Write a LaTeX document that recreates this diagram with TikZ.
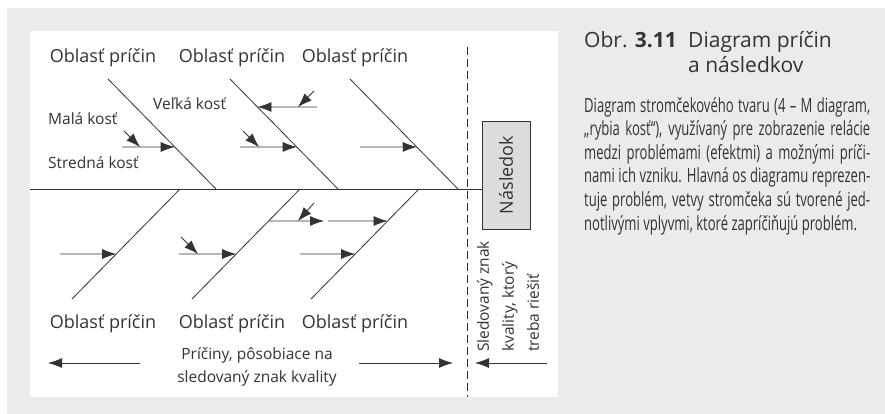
\documentclass[tikz,border=0pt]{standalone}
\usepackage{fontspec}
\setmainfont{Open Sans}
\newfontfamily\narrowfont[FakeStretch=0.67]{Open Sans}
\usetikzlibrary{arrows.meta,calc}
\definecolor{ink}{HTML}{333333}
\definecolor{pagegray}{HTML}{EBEBEC}
\definecolor{boxgray}{HTML}{DCDCDC}

\begin{document}
\begin{tikzpicture}[x=1pt,y=-1pt,
  bone/.style={draw=ink, line width=0.8pt},
  branch/.style={draw=ink, line width=0.8pt, -{Latex[length=14pt,width=10pt]}},
  area/.style={font=\fontsize{18}{22}\selectfont, text=ink, inner sep=0pt},
  small/.style={font=\fontsize{15.5}{23}\selectfont, text=ink, inner sep=0pt}]
\useasboundingbox (0,0) rectangle (885,414);
\fill[pagegray] (7,8) rectangle (885,414);
\fill[white] (30,31) rectangle (558,397);

% effect box and spine
\node [draw=ink, fill=boxgray, line width=0.8pt, rotate=90, minimum width=108pt, minimum height=48pt, area] (eff) at (506,175) {Následok};
\coordinate (tail) at (30,189);
\draw[bone] (tail) -- (tail -| eff.north);

% dashed border of the causes
\coordinate (cuttop) at (467,47);
\coordinate (cutbot) at (467,397);
\draw[ink, line width=0.8pt, dash pattern=on 8pt off 4pt] (cuttop) -- (cutbot);

% upper bones
\coordinate (u1) at (108,79);  \coordinate (m1) at (216,189);
\coordinate (u2) at (230,79);  \coordinate (m2) at (338,189);
\coordinate (u3) at (350,79);  \coordinate (m3) at (458,189);
\draw[bone] (u1) -- (m1);
\draw[bone] (u2) -- (m2);
\draw[bone] (u3) -- (m3);

% lower bones
\coordinate (d1) at (72,299);  \coordinate (n1) at (180,189);
\coordinate (d2) at (192,299); \coordinate (n2) at (300,189);
\coordinate (d3) at (311,299); \coordinate (n3) at (419,189);
\draw[bone] (d1) -- (n1);
\draw[bone] (d2) -- (n2);
\draw[bone] (d3) -- (n3);

% branches on the upper bones
\coordinate (a1) at (122,147); \coordinate (b1) at ($(u1)!0.618!(m1)$);
\draw[branch] (a1) -- (b1);
\coordinate (c1) at (124,131); \coordinate (e1) at (140,147);
\draw[branch] (c1) -- (e1);
\coordinate (a2) at (240,147); \coordinate (b2) at ($(u2)!0.618!(m2)$);
\draw[branch] (a2) -- (b2);
\coordinate (c2) at (243,131); \coordinate (e2) at (259,147);
\draw[branch] (c2) -- (e2);
\coordinate (a3) at (317,107); \coordinate (b3) at ($(u2)!0.2545!(m2)$);
\draw[branch] (a3) -- (b3);
\coordinate (c3) at (314,91);  \coordinate (e3) at (298,107);
\draw[branch] (c3) -- (e3);
\coordinate (a4) at (360,147); \coordinate (b4) at ($(u3)!0.618!(m3)$);
\draw[branch] (a4) -- (b4);

% branches on the lower bones
\coordinate (a5) at (60,254);  \coordinate (b5) at ($(d1)!0.409!(n1)$);
\draw[branch] (a5) -- (b5);
\coordinate (a6) at (179,254); \coordinate (b6) at ($(d2)!0.409!(n2)$);
\draw[branch] (a6) -- (b6);
\coordinate (c6) at (181,237); \coordinate (e6) at (198,254);
\draw[branch] (c6) -- (e6);
\coordinate (a7) at ($(d2)!0.709!(n2)$); \coordinate (b7) at (324,221);
\draw[branch] (a7) -- (b7);
\coordinate (c7) at (314,203); \coordinate (e7) at (298,221);
\draw[branch] (c7) -- (e7);
\coordinate (a8) at (328,221); \coordinate (b8) at ($(d3)!0.709!(n3)$);
\draw[branch] (a8) -- (b8);
\coordinate (a9) at (300,254); \coordinate (b9) at ($(d3)!0.409!(n3)$);
\draw[branch] (a9) -- (b9);

% area labels
\node [area, anchor=base] (top1) at (103,63) {Oblasť príčin};
\node [area, anchor=base] (top2) at (232,63) {Oblasť príčin};
\node [area, anchor=base] (top3) at (355,63) {Oblasť príčin};
\node [area, anchor=base] (bot1) at (103,328) {Oblasť príčin};
\node [area, anchor=base] (bot2) at (232,328) {Oblasť príčin};
\node [area, anchor=base] (bot3) at (355,328) {Oblasť príčin};

% bone names
\node [small, anchor=base west] (malak) at (48,125) {Malá kosť};
\node [small, anchor=base west] (strk) at (48,168) {Stredná kosť};
\node [small, anchor=base west] (velk) at (153,110) {Veľká kosť};

% causes and the quality mark below (base = last line)
\node [small, align=center, anchor=base] (causes) at (257,382) {Príčiny, pôsobiace na\\sledovaný znak kvality};
\coordinate (lfrom) at (140,363); \coordinate (lto) at (48,363);
\draw[branch] (lfrom) -- (lto);
\coordinate (rfrom) at (359,363); \coordinate (rto) at (453,363);
\draw[branch] (rfrom) -- (rto);
\coordinate (qfrom) at (547,363); \coordinate (qto) at (475,363);
\draw[branch] (qfrom) -- (qto);
\node [small, font=\fontsize{15.5}{25}\selectfont, rotate=90, align=left, anchor=west] (mark) at (508,352) {Sledovaný znak\\kvality, ktorý\\treba riešiť};

% caption
\node [text=ink, inner sep=0pt, anchor=base west, font=\fontsize{21}{25}\selectfont] (fnum) at (584,48) {Obr. \textbf{3.11}};
\node [text=ink, inner sep=0pt, anchor=base west, align=left, font=\fontsize{21}{25}\selectfont] (ftitle) at (688,73) {Diagram príčin\\a následkov};
\node [text=ink, inner sep=0pt, anchor=base west, align=left, font=\narrowfont\fontsize{19.5}{23.6}\selectfont] (fnote) at (584,230) {%
\makebox[286pt][s]{Diagram stromčekového tvaru (4 – M diagram,}\\
\makebox[286pt][s]{„rybia kosť“), využívaný pre zobrazenie relácie}\\
\makebox[286pt][s]{medzi problémami (efektmi) a možnými príči-}\\
\makebox[286pt][s]{nami ich vzniku. Hlavná os diagramu reprezen-}\\
\makebox[286pt][s]{tuje problém, vetvy stromčeka sú tvorené jed-}\\
notlivými vplyvmi, ktoré zapríčiňujú problém.};
\end{tikzpicture}
\end{document}
